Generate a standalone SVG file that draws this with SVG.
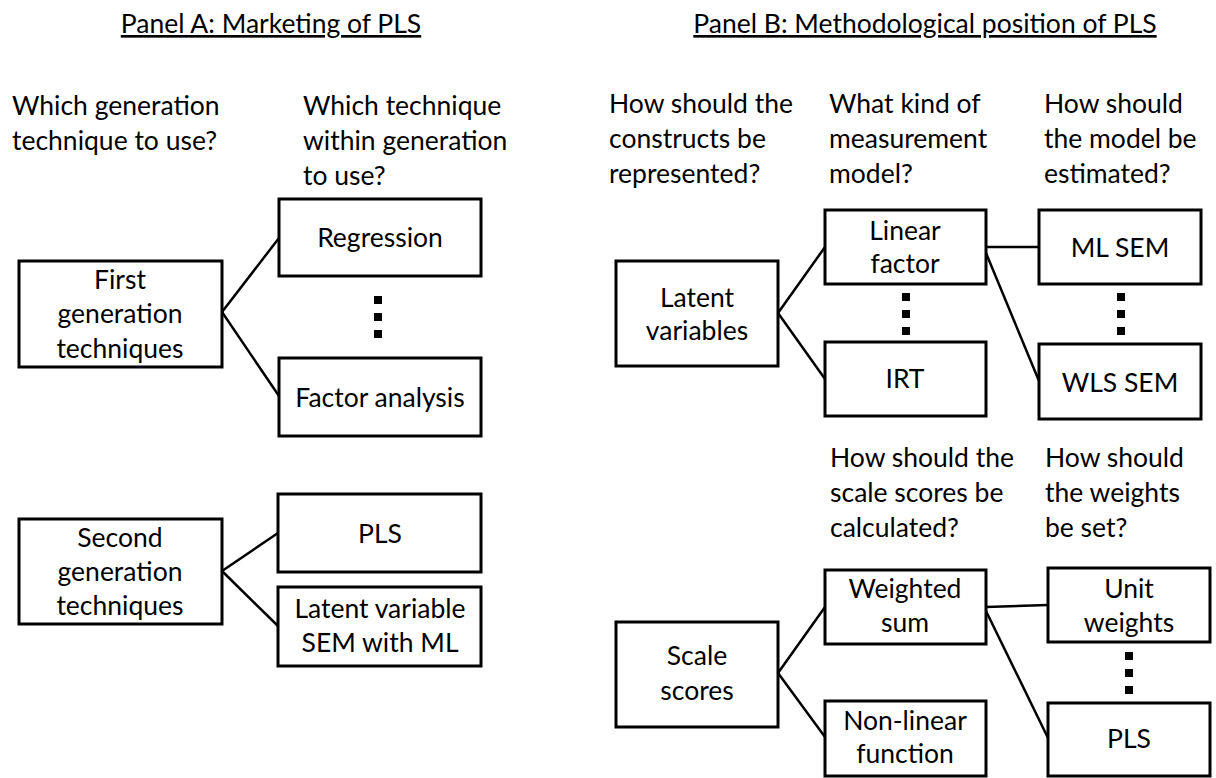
<svg xmlns="http://www.w3.org/2000/svg" width="1216" height="778" viewBox="0 0 1216 778">
<style>
text{font-family:Lato,"Open Sans","Liberation Sans",sans-serif;font-size:26.5px;fill:#000}
.t{text-decoration:underline}
.c{text-anchor:middle}
.box{fill:#fff;stroke:#000;stroke-width:3}
.ln{stroke:#000;stroke-width:2.5;fill:none}
.dots{stroke:#000;stroke-width:8;stroke-dasharray:8 9;fill:none}
</style>
<rect width="1216" height="778" fill="#fff"/>
<g id="titles">
<text class="t c" x="271" y="33">Panel A: Marketing of PLS</text>
<text class="t c" x="925" y="33">Panel B: Methodological position of PLS</text>
</g>
<g id="questions">
<text x="12" y="115">Which generation</text>
<text x="12" y="150">technique to use?</text>
<text x="303" y="115">Which technique</text>
<text x="303" y="150">within generation</text>
<text x="303" y="185">to use?</text>
<text x="609" y="113">How should the</text>
<text x="609" y="148">constructs be</text>
<text x="609" y="183">represented?</text>
<text x="829" y="113">What kind of</text>
<text x="829" y="148">measurement</text>
<text x="829" y="183">model?</text>
<text x="1044" y="113">How should</text>
<text x="1044" y="148">the model be</text>
<text x="1044" y="183">estimated?</text>
<text x="830" y="467">How should the</text>
<text x="830" y="502">scale scores be</text>
<text x="830" y="537">calculated?</text>
<text x="1045" y="467">How should</text>
<text x="1045" y="502">the weights</text>
<text x="1045" y="537">be set?</text>
</g>
<g id="connectors">
<line class="ln" x1="222" y1="312" x2="279" y2="238"/>
<line class="ln" x1="222" y1="312" x2="279" y2="396"/>
<line class="ln" x1="222" y1="571" x2="278" y2="533"/>
<line class="ln" x1="222" y1="571" x2="278" y2="626"/>
<line class="ln" x1="778" y1="313" x2="825" y2="247"/>
<line class="ln" x1="778" y1="313" x2="825" y2="379"/>
<line class="ln" x1="986" y1="247" x2="1039" y2="247"/>
<line class="ln" x1="986" y1="253" x2="1039" y2="381"/>
<line class="ln" x1="778" y1="673" x2="825" y2="607"/>
<line class="ln" x1="778" y1="673" x2="825" y2="737"/>
<line class="ln" x1="986" y1="607" x2="1048" y2="605"/>
<line class="ln" x1="986" y1="611" x2="1048" y2="738"/>
<line class="dots" x1="378" y1="296" x2="378" y2="338"/>
<line class="dots" x1="906" y1="293" x2="906" y2="335"/>
<line class="dots" x1="1121" y1="293" x2="1121" y2="335"/>
<line class="dots" x1="1129" y1="652" x2="1129" y2="694"/>
</g>
<g id="first-gen"><rect class="box" x="19" y="261" width="203" height="106"/><text class="c" x="120" y="289">First</text><text class="c" x="120" y="323">generation</text><text class="c" x="120" y="358">techniques</text></g>
<g id="regression"><rect class="box" x="279" y="199" width="202" height="77"/><text class="c" x="380" y="247">Regression</text></g>
<g id="factor-analysis"><rect class="box" x="279" y="358" width="202" height="78"/><text class="c" x="380" y="407">Factor analysis</text></g>
<g id="second-gen"><rect class="box" x="19" y="519" width="203" height="105"/><text class="c" x="120" y="547">Second</text><text class="c" x="120" y="581">generation</text><text class="c" x="120" y="615">techniques</text></g>
<g id="pls-a"><rect class="box" x="278" y="494" width="203" height="78"/><text class="c" x="380" y="543">PLS</text></g>
<g id="lvsem"><rect class="box" x="278" y="587" width="203" height="79"/><text class="c" x="380" y="618">Latent variable</text><text class="c" x="380" y="652">SEM with ML</text></g>
<g id="latent-variables"><rect class="box" x="616" y="261" width="162" height="105"/><text class="c" x="697" y="307">Latent</text><text class="c" x="697" y="340">variables</text></g>
<g id="linear-factor"><rect class="box" x="825" y="210" width="161" height="74"/><text class="c" x="905" y="240">Linear</text><text class="c" x="905" y="273">factor</text></g>
<g id="irt"><rect class="box" x="825" y="342" width="161" height="74"/><text class="c" x="905" y="388">IRT</text></g>
<g id="ml-sem"><rect class="box" x="1039" y="210" width="162" height="74"/><text class="c" x="1120" y="257">ML SEM</text></g>
<g id="wls-sem"><rect class="box" x="1039" y="344" width="162" height="75"/><text class="c" x="1120" y="392">WLS SEM</text></g>
<g id="scale-scores"><rect class="box" x="616" y="622" width="162" height="105"/><text class="c" x="697" y="665">Scale</text><text class="c" x="697" y="700">scores</text></g>
<g id="weighted-sum"><rect class="box" x="825" y="570" width="161" height="74"/><text class="c" x="905" y="598">Weighted</text><text class="c" x="905" y="632">sum</text></g>
<g id="non-linear"><rect class="box" x="825" y="701" width="161" height="75"/><text class="c" x="905" y="730">Non-linear</text><text class="c" x="905" y="763">function</text></g>
<g id="unit-weights"><rect class="box" x="1048" y="568" width="162" height="74"/><text class="c" x="1129" y="598">Unit</text><text class="c" x="1129" y="632">weights</text></g>
<g id="pls-b"><rect class="box" x="1048" y="703" width="162" height="73"/><text class="c" x="1129" y="748">PLS</text></g>
</svg>
